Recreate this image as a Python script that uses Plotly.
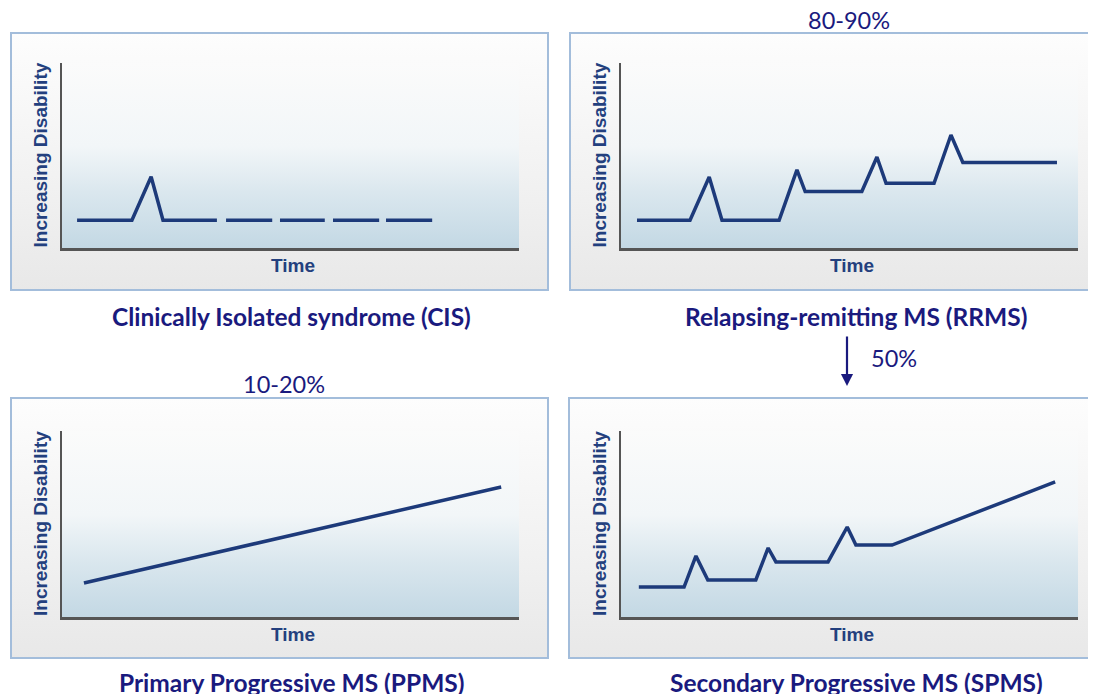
import plotly.graph_objects as go

# browser page keeps an 8px body margin, so the figure is laid out 8px in from the corner
OFF = 8
W, H = 1096 - OFF, 694 - OFF

# ---------------- data (time / disability, 0-100 units of each panel's axes) --------------
cis_x = [3.3, 15.3, 19.5, 22.1, 33.9]
cis_y = [15.0, 15.0, 38.5, 15.0, 15.0]
cis_dash_start = [35.9, 47.7, 59.3, 70.9]
cis_dash_end = [46.0, 57.5, 69.4, 81.0]
cis_dash_level = 15.0

rrms_x = [3.5, 15.1, 19.3, 22.1, 34.6, 38.5, 40.3, 52.7, 56.0, 58.0, 68.5, 72.2, 74.8, 95.4]
rrms_y = [15.0, 15.0, 38.4, 15.0, 15.0, 42.2, 30.5, 30.5, 49.2, 35.0, 35.0, 61.1, 46.2, 46.2]

ppms_x = [4.8, 96.1]
ppms_y = [18.3, 69.9]

spms_x = [3.9, 13.8, 16.4, 19.0, 29.5, 32.2, 33.9, 45.3, 49.5, 51.4, 59.3, 95.0]
spms_y = [16.1, 16.1, 32.8, 19.9, 19.9, 37.1, 29.6, 29.6, 48.4, 38.7, 38.7, 72.6]

panel_titles = ["Clinically Isolated syndrome (CIS)", "Relapsing-remitting MS (RRMS)",
                "Primary Progressive MS (PPMS)", "Secondary Progressive MS (SPMS)"]
pct_labels = ["80-90%", "10-20%", "50%"]
y_label = "Increasing Disability"
x_label = "Time"

# ---------------- styles / layout constants (screen pixels) ----------------
NAVY = "#1a1a7e"
LINE = "#1d3a7a"
LABEL = "#23407e"
AXIS = "#555555"
BORDER = "#a3bddb"

# axis rectangles: (left, top, right, bottom) in screen pixels
axes_px = [(62, 63, 519, 248), (621, 63, 1078, 248), (62, 431, 519, 617), (621, 431, 1078, 617)]
boxes_px = [(11, 33, 548, 290), (570, 33, 1120, 290), (11, 398, 548, 658), (569, 398, 1120, 658)]

def px(x):
    return (x - OFF) / W

def py(y):
    return 1 - (y - OFF) / H

fig = go.Figure()

# background subplot in screen-pixel units (drawn first, at the bottom)
for (l, t, r, b) in boxes_px:
    fig.add_trace(go.Scatter(
        x=[l, r, r, l, l], y=[694 - b, 694 - b, 694 - t, 694 - t, 694 - b],
        mode="lines", line=dict(width=0), fill="toself",
        fillgradient=dict(type="vertical",
                          colorscale=[[0, "#e8e8e8"], [0.35, "#f0f0f0"], [1, "#fdfdfd"]]),
        hoverinfo="skip", showlegend=False, xaxis="x", yaxis="y"))

layout_axes = dict(
    xaxis=dict(domain=[0, 1], range=[OFF, 1096], visible=False, fixedrange=True),
    yaxis=dict(domain=[0, 1], range=[0, 694 - OFF], visible=False, fixedrange=True),
)

series = [(cis_x, cis_y), (rrms_x, rrms_y), (ppms_x, ppms_y), (spms_x, spms_y)]

for i, ((l, t, r, b), (sx, sy)) in enumerate(zip(axes_px, series)):
    n = i + 2
    xa, ya = f"x{n}", f"y{n}"
    layout_axes[f"xaxis{n}"] = dict(domain=[px(l), px(r)], range=[0, 100], anchor=ya,
                                   showline=True, linecolor=AXIS, linewidth=2.5,
                                   showgrid=False, zeroline=False, showticklabels=False,
                                   ticks="", fixedrange=True)
    layout_axes[f"yaxis{n}"] = dict(domain=[py(b), py(t)], range=[0, 100], anchor=xa,
                                   showline=True, linecolor=AXIS, linewidth=2,
                                   showgrid=False, zeroline=False, showticklabels=False,
                                   ticks="", fixedrange=True)
    # gradient plot area
    fig.add_trace(go.Scatter(
        x=[0, 100, 100, 0, 0], y=[0, 0, 100, 100, 0], mode="lines", line=dict(width=0),
        fill="toself",
        fillgradient=dict(type="vertical",
                          colorscale=[[0, "#c3d8e4"], [0.3, "#dae7ee"], [0.55, "#f2f6f8"],
                                      [1, "#fbfbfb"]]),
        hoverinfo="skip", showlegend=False, xaxis=xa, yaxis=ya))
    # data line
    fig.add_trace(go.Scatter(x=sx, y=sy, mode="lines",
                             line=dict(color=LINE, width=3.5),
                             hoverinfo="skip", showlegend=False, xaxis=xa, yaxis=ya))
    if i == 0:
        dx, dy = [], []
        for a, e in zip(cis_dash_start, cis_dash_end):
            dx += [a, e, None]
            dy += [cis_dash_level, cis_dash_level, None]
        fig.add_trace(go.Scatter(x=dx, y=dy, mode="lines",
                                 line=dict(color=LINE, width=3.5),
                                 hoverinfo="skip", showlegend=False, xaxis=xa, yaxis=ya))

annotations = []
label_font = dict(family="Liberation Sans, Arial, sans-serif", size=19, color=LABEL)
for (l, t, r, b) in axes_px:
    annotations.append(dict(text=f"<b>{y_label}</b>", x=px(l - 22), y=py((t + b) / 2),
                            xref="paper", yref="paper", showarrow=False, textangle=-90,
                            xanchor="center", yanchor="middle", font=label_font))
    annotations.append(dict(text=f"<b>{x_label}</b>", x=px((l + r) / 2 + 2), y=py(b + 17),
                            xref="paper", yref="paper", showarrow=False,
                            xanchor="center", yanchor="middle", font=label_font))

title_font = dict(family="Lato, Open Sans, sans-serif", size=24.5, color=NAVY)
title_pos = [(291, 316), (856, 316), (291, 682), (856, 682)]
for txt, (x, y) in zip(panel_titles, title_pos):
    annotations.append(dict(text=f"<b>{txt}</b>", x=px(x), y=py(y), xref="paper", yref="paper",
                            showarrow=False, xanchor="center", yanchor="middle", font=title_font))

pct_font = dict(family="Lato, Open Sans, sans-serif", size=23.5, color=NAVY)
annotations.append(dict(text=pct_labels[0], x=px(849), y=py(20), xref="paper", yref="paper",
                        showarrow=False, xanchor="center", yanchor="middle", font=pct_font))
annotations.append(dict(text=pct_labels[1], x=px(284), y=py(384), xref="paper", yref="paper",
                        showarrow=False, xanchor="center", yanchor="middle", font=pct_font))
annotations.append(dict(text=pct_labels[2], x=px(869), y=py(358), xref="paper", yref="paper",
                        showarrow=False, xanchor="left", yanchor="middle", font=pct_font))
# arrow RRMS -> SPMS
annotations.append(dict(text="", x=px(847), y=py(386), xref="paper", yref="paper",
                        ax=0, ay=-51, showarrow=True, arrowhead=2, arrowsize=1.1,
                        arrowwidth=2.2, arrowcolor=NAVY))

shapes = []
for (l, t, r, b) in boxes_px:
    shapes.append(dict(type="rect", xref="paper", yref="paper", x0=px(l), x1=px(r),
                       y0=py(b), y1=py(t), line=dict(color=BORDER, width=2),
                       fillcolor="rgba(0,0,0,0)", layer="above"))

fig.update_layout(width=W, height=H, margin=dict(l=0, r=0, t=0, b=0),
                  paper_bgcolor="white", plot_bgcolor="rgba(0,0,0,0)",
                  showlegend=False, annotations=annotations, shapes=shapes, **layout_axes)

fig.write_html("out.html")
